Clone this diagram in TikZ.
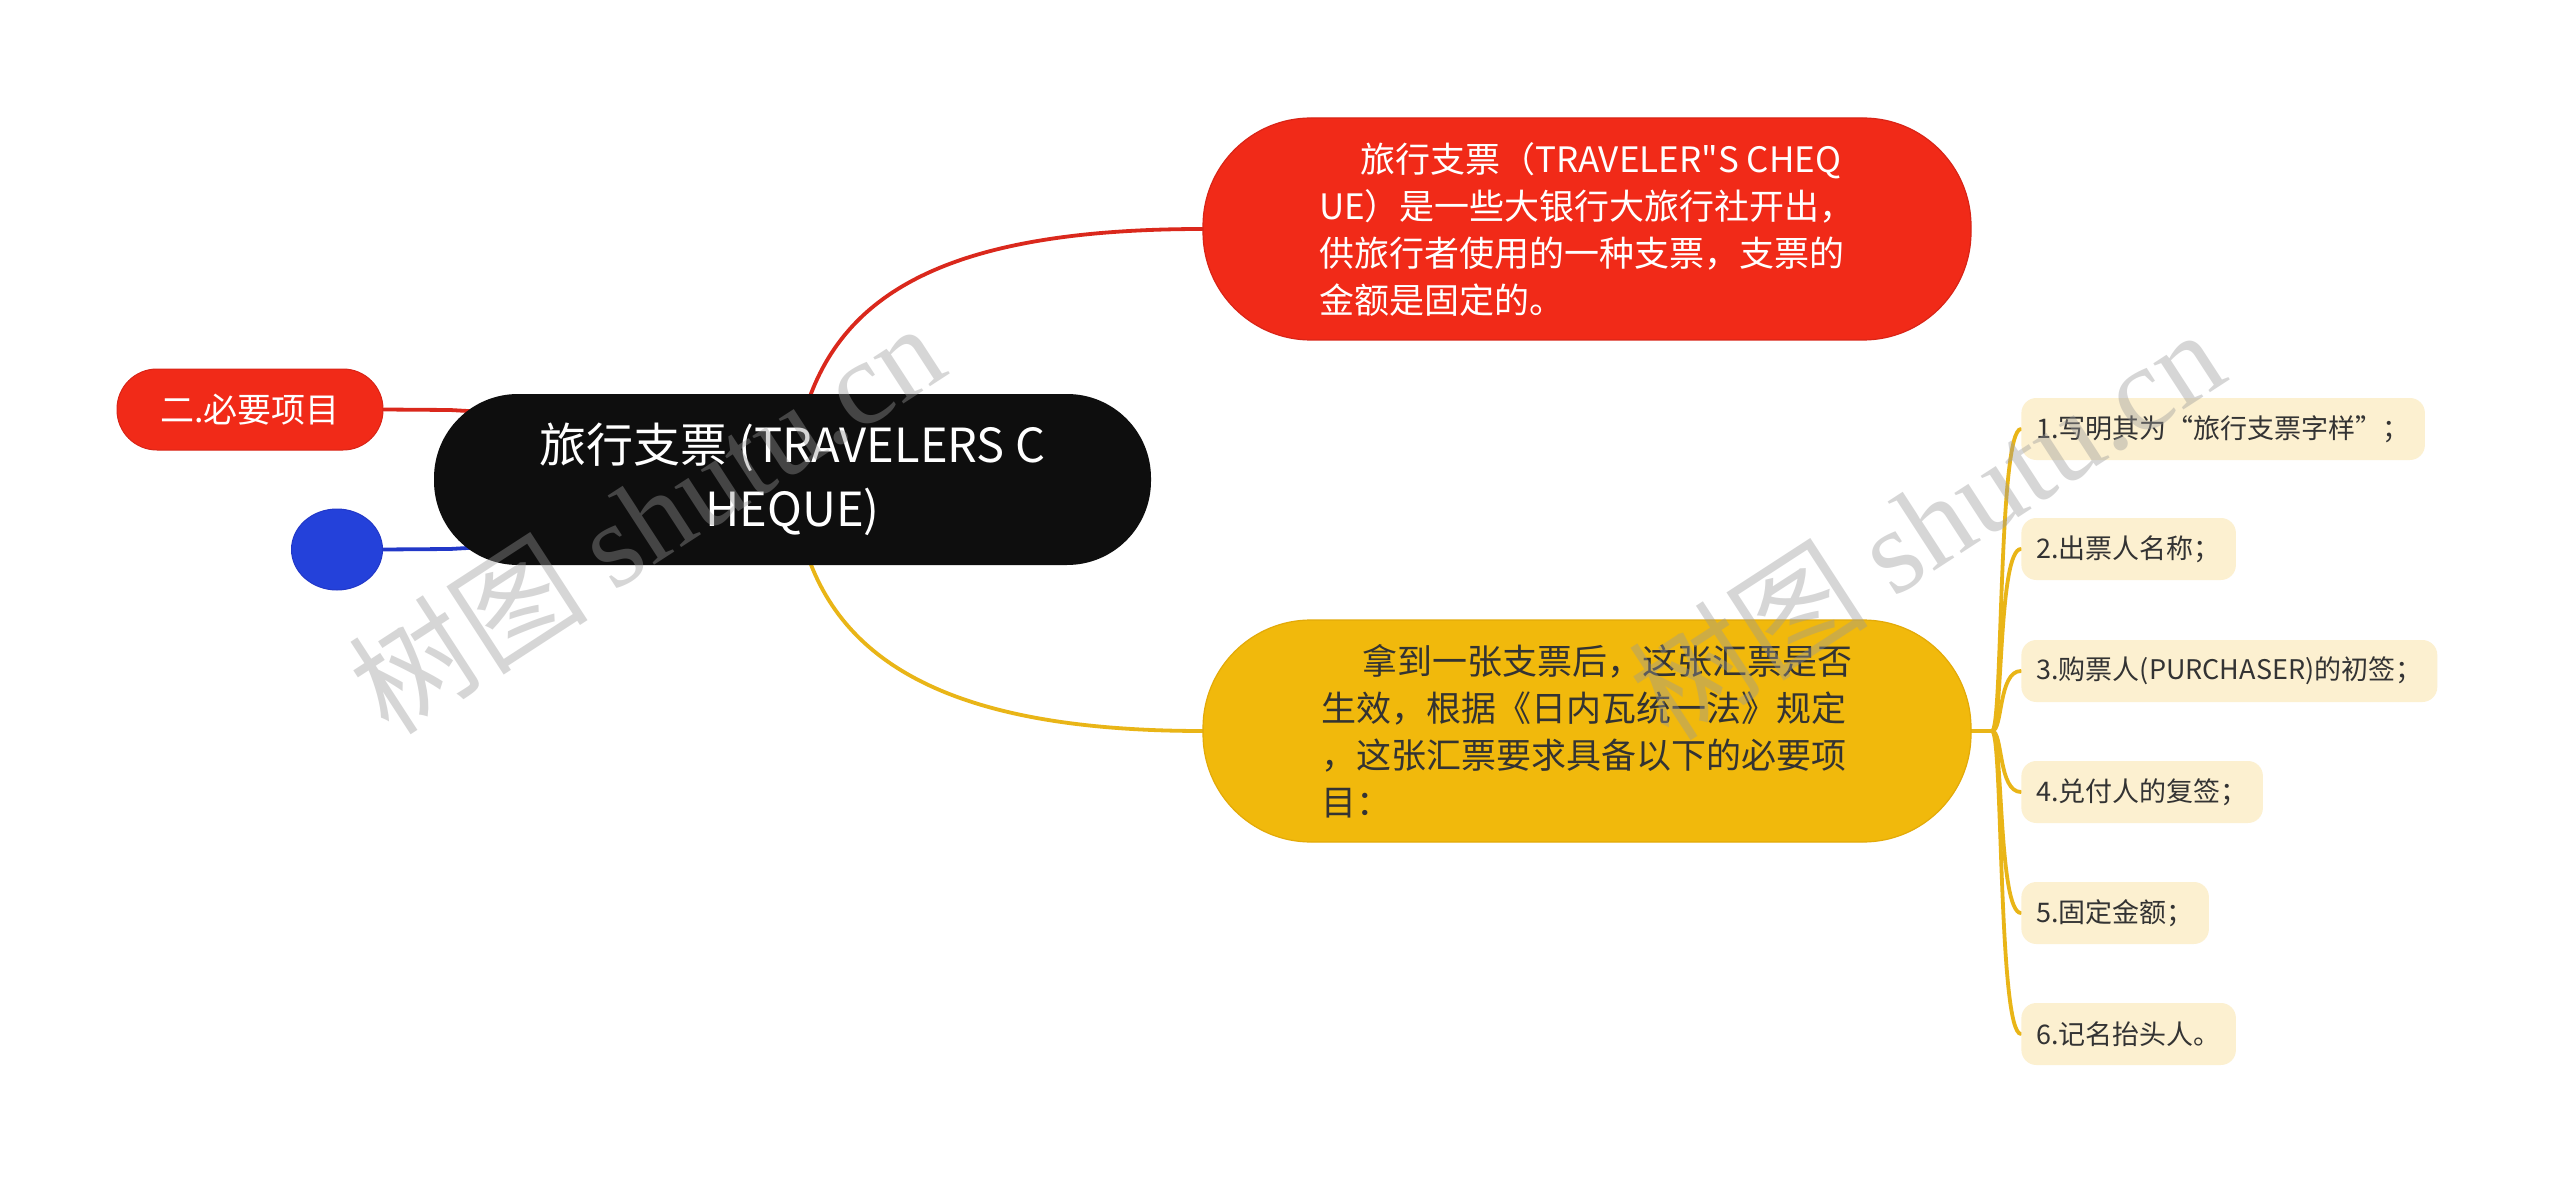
\documentclass[tikz,border=0pt]{standalone}
\usepackage{fontspec}
\setmainfont{Noto Sans CJK SC}
\newfontfamily\qfont{Noto Sans CJK SC}
\newfontfamily\wmserif{Liberation Serif}
\usetikzlibrary{calc,shapes.geometric}
\pgfdeclarelayer{bg}
\pgfsetlayers{bg,main}
\definecolor{cred}{HTML}{F12A18}
\definecolor{credline}{HTML}{DA281C}
\definecolor{credborder}{HTML}{D92417}
\definecolor{cblack}{HTML}{0E0E0E}
\definecolor{cyel}{HTML}{F1B90C}
\definecolor{cyelline}{HTML}{E9B517}
\definecolor{cyelborder}{HTML}{E3AA08}
\definecolor{cblue}{HTML}{2441DA}
\definecolor{cblueline}{HTML}{2238C8}
\definecolor{cleaf}{HTML}{FCF0D0}
\definecolor{ctext}{HTML}{333333}
\definecolor{cwm}{HTML}{999999}
\begin{document}
\begin{tikzpicture}[x=0.5pt,y=-0.5pt,
  conn/.style={line width=1.9pt, line cap=round},
  bigbox/.style={minimum width=384pt, minimum height=111pt, rounded corners=54pt,
    align=left, inner sep=0pt, line width=0.6pt,
    font=\fontsize{17.5pt}{23.5pt}\selectfont},
  leaf/.style={anchor=west, fill=cleaf, rounded corners=7.5pt, minimum height=31pt,
    inner xsep=7.5pt, inner ysep=0pt, text=ctext,
    font=\fontsize{13.5pt}{16pt}\selectfont},
  wm/.style={text=cwm, opacity=0.4, text opacity=0.4, rotate=33, inner sep=0pt,
    font=\fontsize{60pt}{60pt}\selectfont}]

\useasboundingbox (0,0) rectangle (2560,1182);

% main nodes
\node[fill=cblack, text=white, minimum width=358.5pt, minimum height=85.5pt,
  rounded corners=42pt, align=center, inner sep=0pt,
  font=\fontsize{23.5pt}{32pt}\selectfont] (c) at (792.5,479.5)
  {旅行支票 (TRAVELERS C\\HEQUE)};

\node[bigbox, fill=cred, draw=credborder, text=white] (r) at (1587,229)
  {\hspace*{20.5pt}旅行支票（TRAVELER{\qfont"}S CHEQ\\UE）是一些大银行大旅行社开出，\\供旅行者使用的一种支票，支票的\\金额是固定的。};

\node[bigbox, fill=cyel, draw=cyelborder, text=ctext] (y) at (1587,731)
  {\hspace*{20.5pt}拿到一张支票后，这张汇票是否\\生效，根据《日内瓦统一法》规定\\，这张汇票要求具备以下的必要项\\目：};

\node[fill=cred, draw=credborder, line width=0.5pt, text=white, minimum width=133pt,
  minimum height=40.5pt, rounded corners=20pt, inner sep=0pt,
  font=\fontsize{17pt}{20pt}\selectfont] (e) at (250,409.5) {二.必要项目};

\node[ellipse, fill=cblue, draw=cblueline, line width=0.5pt, minimum width=45.5pt,
  minimum height=40.5pt, inner sep=0pt] (b) at (337,549.5) {};

% leaves
\node[leaf] (l1) at (2021,429) {1.写明其为“旅行支票字样”；};
\node[leaf] (l2) at (2021,549) {2.出票人名称；};
\node[leaf] (l3) at (2021,671) {3.购票人(PURCHASER)的初签；};
\node[leaf] (l4) at (2021,792) {4.兑付人的复签；};
\node[leaf] (l5) at (2021,913) {5.固定金额；};
\node[leaf] (l6) at (2021,1034) {6.记名抬头人。};

% connectors (behind the nodes)
\begin{pgfonlayer}{bg}
  \fill[white] (0,0) rectangle (2560,1182);
  \draw[conn, credline] (800,430) .. controls (830,300) and (935,229) .. (r.west);
  \draw[conn, cyelline] (800,529) .. controls (830,659) and (945,731) .. (y.west);
  \draw[conn, credline] (e.east) -- (450,410) -- (520,414);
  \draw[conn, cblueline] (b.east) -- (450,549) -- (520,545);
  \coordinate (j) at (1992,731);
  \draw[conn, cyelline] (y.east) -- (j);
  \foreach \n in {l1,l2,l3,l4,l5,l6}
    \draw[conn, cyelline] (j) .. controls (2003,731) and ($(\n.west)+(-23,0)$) .. (\n.west);
\end{pgfonlayer}

% watermarks
\node[wm] (w1) at (646,517) {树图 {\wmserif shutu.cn}};
\node[wm] (w2) at (1926,523) {树图 {\wmserif shutu.cn}};
\end{tikzpicture}
\end{document}
